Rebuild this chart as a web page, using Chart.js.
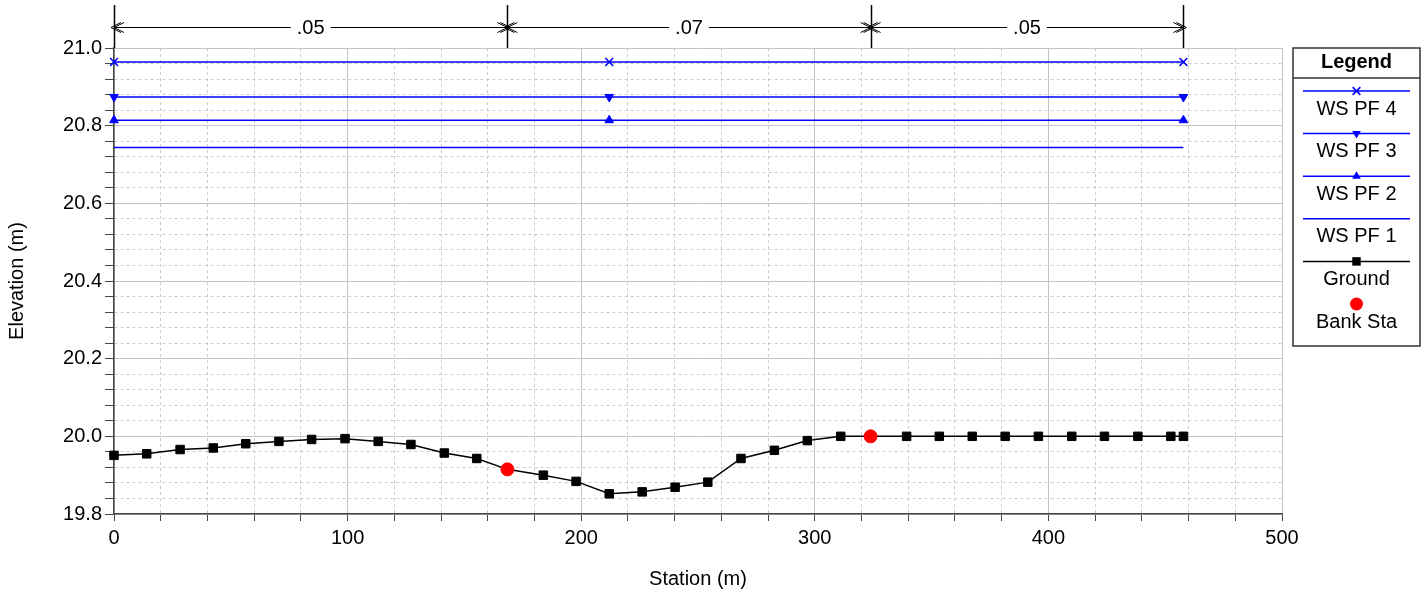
<!DOCTYPE html>
<html lang="en">
<head>
<meta charset="UTF-8">
<title>Cross section</title>
<script src="https://cdn.jsdelivr.net/npm/chart.js@4.4.1/dist/chart.umd.min.js"></script>
<style>
  html, body { margin: 0; padding: 0; background: #fff; }
  #wrap { width: 1428px; height: 597px; }
</style>
</head>
<body>
<div id="wrap"><canvas id="grafico" width="1428" height="597"></canvas></div>
<script>
// ground profile (station / elevation)
const groundSta = [0, 14.0, 28.3, 42.5, 56.4, 70.6, 84.6, 98.9, 113.1, 127.1, 141.4, 155.3, 168.4,
  183.8, 197.8, 212.0, 226.1, 240.2, 254.2, 268.4, 282.7, 296.8, 311.1, 323.9,
  339.3, 353.3, 367.4, 381.5, 395.7, 410.0, 424.0, 438.3, 452.4, 457.8];
const groundElev = [19.951, 19.955, 19.966, 19.970, 19.981, 19.987, 19.992, 19.994, 19.987, 19.979, 19.957, 19.943, 19.915,
  19.900, 19.884, 19.852, 19.857, 19.869, 19.882, 19.943, 19.964, 19.989, 20.0, 20.0,
  20.0, 20.0, 20.0, 20.0, 20.0, 20.0, 20.0, 20.0, 20.0, 20.0];

// bank stations
const bankSta = [168.4, 323.9];
const bankElev = [19.915, 20.0];

// water surfaces
const wsNames = ['WS PF 4', 'WS PF 3', 'WS PF 2', 'WS PF 1'];
const wsElev = [20.964, 20.874, 20.814, 20.744];
const wsSta = [0, 212, 457.8];

// Manning n values between breaks
const nSta = [0, 168.4, 323.9, 457.8];
const nLabels = ['.05', '.07', '.05'];

// axis ticks
const yMin = 19.8, yMax = 21.0, yStep = 0.04, yLabelStep = 0.2;
const xMin = 0, xMax = 500, xStep = 20, xLabelStep = 100;

const FONT = 'Arial, "Liberation Sans", sans-serif';
Chart.defaults.font.family = FONT;
Chart.defaults.font.size = 20;
Chart.defaults.color = '#000';

const wsMarker = ['crossRot', 'triangle', 'triangle', false];
const wsRot = [0, 180, 0, 0];

const isMult = (v, step) => Math.abs(v / step - Math.round(v / step)) < 1e-6;

const datasets = [];
wsNames.forEach((name, i) => {
  datasets.push({
    label: name,
    data: wsSta.map(s => ({ x: s, y: wsElev[i] })),
    borderColor: '#0000ff',
    backgroundColor: '#0000ff',
    borderWidth: 1.5,
    pointStyle: wsMarker[i] || 'circle',
    pointRadius: wsMarker[i] ? (i === 0 ? 5.5 : 5) : 0,
    pointRotation: wsRot[i],
    pointBorderWidth: i === 0 ? 1.5 : 1,
    clip: false,
    order: 2
  });
});
datasets.push({
  label: 'Ground',
  data: groundSta.map((s, i) => ({ x: s, y: groundElev[i] })),
  borderColor: '#000',
  backgroundColor: '#000',
  borderWidth: 1.5,
  pointStyle: 'rect',
  pointRadius: 6,
  pointBorderWidth: 1,
  clip: false,
  order: 1
});
datasets.push({
  label: 'Bank Sta',
  data: bankSta.map((s, i) => ({ x: s, y: bankElev[i] })),
  showLine: false,
  borderColor: '#ff0000',
  backgroundColor: '#ff0000',
  pointStyle: 'circle',
  pointRadius: 6.5,
  pointBorderWidth: 1,
  clip: false,
  order: 0
});

// marker for the custom legend
function marker(ctx, style, x, y, r, rot) {
  ctx.beginPath();
  if (style === 'crossRot') {
    const d = r * Math.SQRT1_2;
    ctx.moveTo(x - d, y - d); ctx.lineTo(x + d, y + d);
    ctx.moveTo(x - d, y + d); ctx.lineTo(x + d, y - d);
    ctx.stroke();
    return;
  }
  if (style === 'triangle') {
    let a = (rot || 0) * Math.PI / 180;
    ctx.moveTo(x + Math.sin(a) * r, y - Math.cos(a) * r);
    a += 2 * Math.PI / 3;
    ctx.lineTo(x + Math.sin(a) * r, y - Math.cos(a) * r);
    a += 2 * Math.PI / 3;
    ctx.lineTo(x + Math.sin(a) * r, y - Math.cos(a) * r);
    ctx.closePath();
  } else if (style === 'rect') {
    const s = r * Math.SQRT1_2;
    ctx.rect(x - s, y - s, 2 * s, 2 * s);
  } else {
    ctx.arc(x, y, r, 0, Math.PI * 2);
  }
  ctx.fill();
}

const legendPlugin = {
  id: 'legendBox',
  afterDraw(chart) {
    const ctx = chart.ctx;
    const bx = 1293, by = 48, bw = 127, bh = 298;
    const cx = bx + bw / 2;
    ctx.save();
    ctx.strokeStyle = '#333';
    ctx.lineWidth = 1.5;
    ctx.strokeRect(bx, by, bw, bh);
    ctx.beginPath();
    ctx.moveTo(bx, by + 30); ctx.lineTo(bx + bw, by + 30);
    ctx.stroke();
    ctx.fillStyle = '#000';
    ctx.textAlign = 'center';
    ctx.textBaseline = 'middle';
    ctx.font = 'bold 20px ' + FONT;
    ctx.fillText('Legend', cx, by + 14);
    ctx.font = '20px ' + FONT;
    chart.data.datasets.forEach((ds, i) => {
      const yl = 91 + i * 42.6;
      ctx.strokeStyle = ds.borderColor;
      ctx.fillStyle = ds.backgroundColor;
      if (ds.showLine !== false) {
        ctx.lineWidth = 1.5;
        ctx.beginPath();
        ctx.moveTo(1303, yl); ctx.lineTo(1410, yl);
        ctx.stroke();
      }
      if (ds.pointRadius > 0) {
        ctx.lineWidth = ds.pointBorderWidth;
        marker(ctx, ds.pointStyle, cx, yl, ds.pointRadius, ds.pointRotation);
      }
      ctx.fillStyle = '#000';
      ctx.fillText(ds.label, cx, yl + 18);
    });
    ctx.restore();
  }
};

function chevron(ctx, x, y, dir) {
  for (const off of [0, 3]) {
    const tip = x + dir * off;
    ctx.beginPath();
    ctx.moveTo(tip - dir * 10, y - 5);
    ctx.lineTo(tip, y);
    ctx.lineTo(tip - dir * 10, y + 5);
    ctx.stroke();
  }
}

const nPlugin = {
  id: 'nValues',
  afterDraw(chart) {
    const ctx = chart.ctx;
    const xs = chart.scales.x;
    const top = chart.chartArea.top;
    const yl = 27;
    ctx.save();
    ctx.strokeStyle = '#000';
    ctx.lineWidth = 1.5;
    nSta.forEach(s => {
      const px = Math.round(xs.getPixelForValue(s)) + 0.5;
      ctx.beginPath();
      ctx.moveTo(px, 5); ctx.lineTo(px, top);
      ctx.stroke();
    });
    ctx.font = '20px ' + FONT;
    ctx.textAlign = 'center';
    ctx.textBaseline = 'middle';
    ctx.fillStyle = '#000';
    ctx.lineWidth = 1;
    for (let i = 0; i < nLabels.length; i++) {
      const a = xs.getPixelForValue(nSta[i]);
      const b = xs.getPixelForValue(nSta[i + 1]);
      const mid = (a + b) / 2;
      const tw = ctx.measureText(nLabels[i]).width;
      ctx.beginPath();
      ctx.moveTo(a, yl + 0.5); ctx.lineTo(mid - tw / 2 - 6, yl + 0.5);
      ctx.moveTo(mid + tw / 2 + 6, yl + 0.5); ctx.lineTo(b, yl + 0.5);
      ctx.stroke();
      chevron(ctx, a, yl + 0.5, -1);
      chevron(ctx, b, yl + 0.5, 1);
      ctx.fillText(nLabels[i], mid, yl + 1);
    }
    ctx.restore();
  }
};

const ctx = document.getElementById('grafico').getContext('2d');
new Chart(ctx, {
  type: 'line',
  data: { datasets: datasets },
  plugins: [legendPlugin, nPlugin],
  options: {
    responsive: false,
    animation: false,
    layout: { padding: { top: 48, right: 146, left: 0, bottom: 0 } },
    plugins: { legend: { display: false }, tooltip: { enabled: false } },
    elements: { line: { tension: 0 } },
    scales: {
      x: {
        type: 'linear',
        min: xMin, max: xMax,
        ticks: {
          stepSize: xStep, autoSkip: false, maxRotation: 0, padding: 5,
          callback: v => isMult(v, xLabelStep) ? String(Math.round(v)) : ''
        },
        grid: {
          color: c => (c.tick && isMult(c.tick.value, xLabelStep)) ? '#c4c4c4' : '#cccccc',
          lineWidth: 1,
          tickLength: 7,
          tickColor: '#444'
        },
        border: {
          color: '#444', width: 1.5,
          dash: c => (c.tick && !isMult(c.tick.value, xLabelStep)) ? [3, 3] : []
        },
        title: { display: true, text: 'Station (m)', font: { size: 20 }, padding: { top: 0, bottom: 6 } },
        afterFit: s => { s.height = 83; }
      },
      y: {
        type: 'linear',
        min: yMin, max: yMax,
        ticks: {
          stepSize: yStep, autoSkip: false, padding: 3,
          callback: v => isMult(v, yLabelStep) ? v.toFixed(1) : ''
        },
        grid: {
          color: c => (c.tick && isMult(c.tick.value, yLabelStep)) ? '#c4c4c4' : '#cccccc',
          lineWidth: 1,
          tickLength: 9,
          tickColor: '#444'
        },
        border: {
          color: '#444', width: 1.5,
          dash: c => (c.tick && !isMult(c.tick.value, yLabelStep)) ? [3, 3] : []
        },
        title: { display: true, text: 'Elevation (m)', font: { size: 20 }, padding: { top: 5, bottom: 0 } },
        afterFit: s => { s.width = 114; }
      }
    }
  }
});
</script>
</body>
</html>
